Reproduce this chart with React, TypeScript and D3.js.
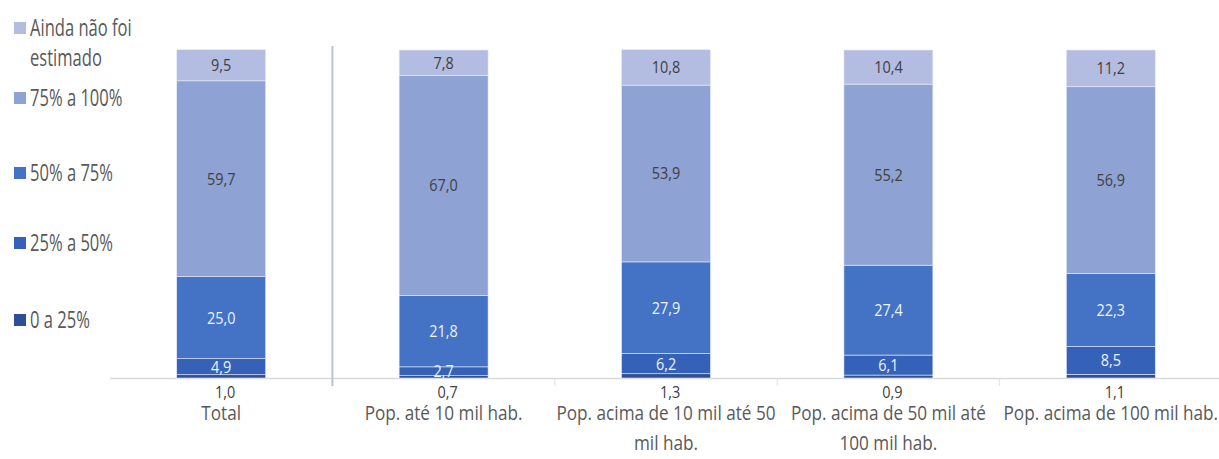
import React from "react";
import * as d3 from "d3";

const categories = ["Total", "Pop. até 10 mil hab.", "Pop. acima de 10 mil até 50 mil hab.", "Pop. acima de 50 mil até 100 mil hab.", "Pop. acima de 100 mil hab."];
const categoryLines = [["Total"], ["Pop. até 10 mil hab."], ["Pop. acima de 10 mil até 50", "mil hab."], ["Pop. acima de 50 mil até", "100 mil hab."], ["Pop. acima de 100 mil hab."]];
const seriesNames = ["0 a 25%", "25% a 50%", "50% a 75%", "75% a 100%", "Ainda não foi estimado"];
const s0a25 = [1.0, 0.7, 1.3, 0.9, 1.1];
const s25a50 = [4.9, 2.7, 6.2, 6.1, 8.5];
const s50a75 = [25.0, 21.8, 27.9, 27.4, 22.3];
const s75a100 = [59.7, 67.0, 53.9, 55.2, 56.9];
const sAinda = [9.5, 7.8, 10.8, 10.4, 11.2];
const colors = ["#2c4f96", "#3562b8", "#4472c4", "#8ea2d4", "#b3bde2"];
const labelColors = ["#404040", "#eef2fa", "#eef2fa", "#404040", "#404040"];

const W = 1219, H = 459;
const FONT = "'Open Sans', sans-serif";

function T({ x, y, s = 1, size, fill, anchor = "middle", children }: any) {
  return (
    <g transform={`translate(${x},${y}) scale(${s},1)`}>
      <text fontFamily={FONT} fontSize={size} fill={fill} textAnchor={anchor}>{children}</text>
    </g>
  );
}

export default function App() {
  const series = [s0a25, s25a50, s50a75, s75a100, sAinda];
  const rows = categories.map((c, i) => {
    const r: any = { cat: c };
    seriesNames.forEach((n, k) => (r[n] = series[k][i]));
    return r;
  });
  const stacked = d3.stack().keys(seriesNames)(rows);
  const x = d3.scaleBand().domain(categories).range([110, 1222]).paddingInner(0.6).paddingOuter(0.3);
  const y = d3.scaleLinear().domain([0, 100]).range([378, 50]);
  const step = x.step();
  const y0 = y(0);
  const gap = (step - x.bandwidth()) / 2;

  const legendY = [320, 243, 173, 98, 28];

  return (
    <svg width={W} height={H} style={{ position: "absolute", left: 0, top: 0, background: "#fff" }}>
      <defs>
        <clipPath id="plot">
          <rect x={0} y={0} width={W} height={y0} />
        </clipPath>
      </defs>
      {/* axis */}
      <line x1={110} x2={W} y1={y0 + 0.5} y2={y0 + 0.5} stroke="#d9d9d9" strokeWidth={1.5} />
      {categories.map((c, i) =>
        i > 0 ? (
          <line key={c} x1={x(c)! - gap} x2={x(c)! - gap} y1={y0} y2={y0 + 8} stroke="#e0e0e0" strokeWidth={1} />
        ) : null
      )}
      <line x1={x(categories[1])! - gap} x2={x(categories[1])! - gap} y1={46} y2={386} stroke="#b9c4d8" strokeWidth={2} />
      {/* bars */}
      {stacked.map((layer, k) => (
        <g key={layer.key}>
          {layer.map((d, i) => (
            <rect key={i} x={x(categories[i])} width={x.bandwidth()} y={y(d[1])} height={y(d[0]) - y(d[1])} fill={colors[k]} stroke="#e8ecf6" strokeWidth={0.6} />
          ))}
        </g>
      ))}
      {/* data labels */}
      <g clipPath="url(#plot)">
        {stacked.slice(1).map((layer, kk) =>
          layer.map((d, i) => (
            <T key={`${kk}-${i}`} x={x(categories[i])! + x.bandwidth() / 2} y={(y(d[0]) + y(d[1])) / 2 + 6} s={0.85} size={17} fill={labelColors[kk + 1]}>
              {d3.format(".1f")(series[kk + 1][i]).replace(".", ",")}
            </T>
          ))
        )}
      </g>
      {s0a25.map((v, i) => (
        <T key={i} x={x(categories[i])! + x.bandwidth() / 2 + 4} y={y0 + 20} s={0.85} size={17} fill="#404040">
          {d3.format(".1f")(v).replace(".", ",")}
        </T>
      ))}
      {/* category labels */}
      {categoryLines.map((lines, i) =>
        lines.map((ln, j) => (
          <T key={`${i}-${j}`} x={x(categories[i])! + x.bandwidth() / 2} y={y0 + 42 + j * 30} s={0.88} size={19.5} fill="#595959">
            {ln}
          </T>
        ))
      )}
      {/* legend */}
      {seriesNames.map((n, k) => (
        <g key={n}>
          <rect x={14} y={legendY[k] - 6} width={12} height={12} fill={colors[k]} />
          {k === 4 ? (
            <>
              <T x={30} y={legendY[k] + 8} s={0.72} size={23} fill="#595959" anchor="start">Ainda não foi</T>
              <T x={30} y={legendY[k] + 38} s={0.72} size={23} fill="#595959" anchor="start">estimado</T>
            </>
          ) : (
            <T x={30} y={legendY[k] + 8} s={0.72} size={23} fill="#595959" anchor="start">{n}</T>
          )}
        </g>
      ))}
    </svg>
  );
}
